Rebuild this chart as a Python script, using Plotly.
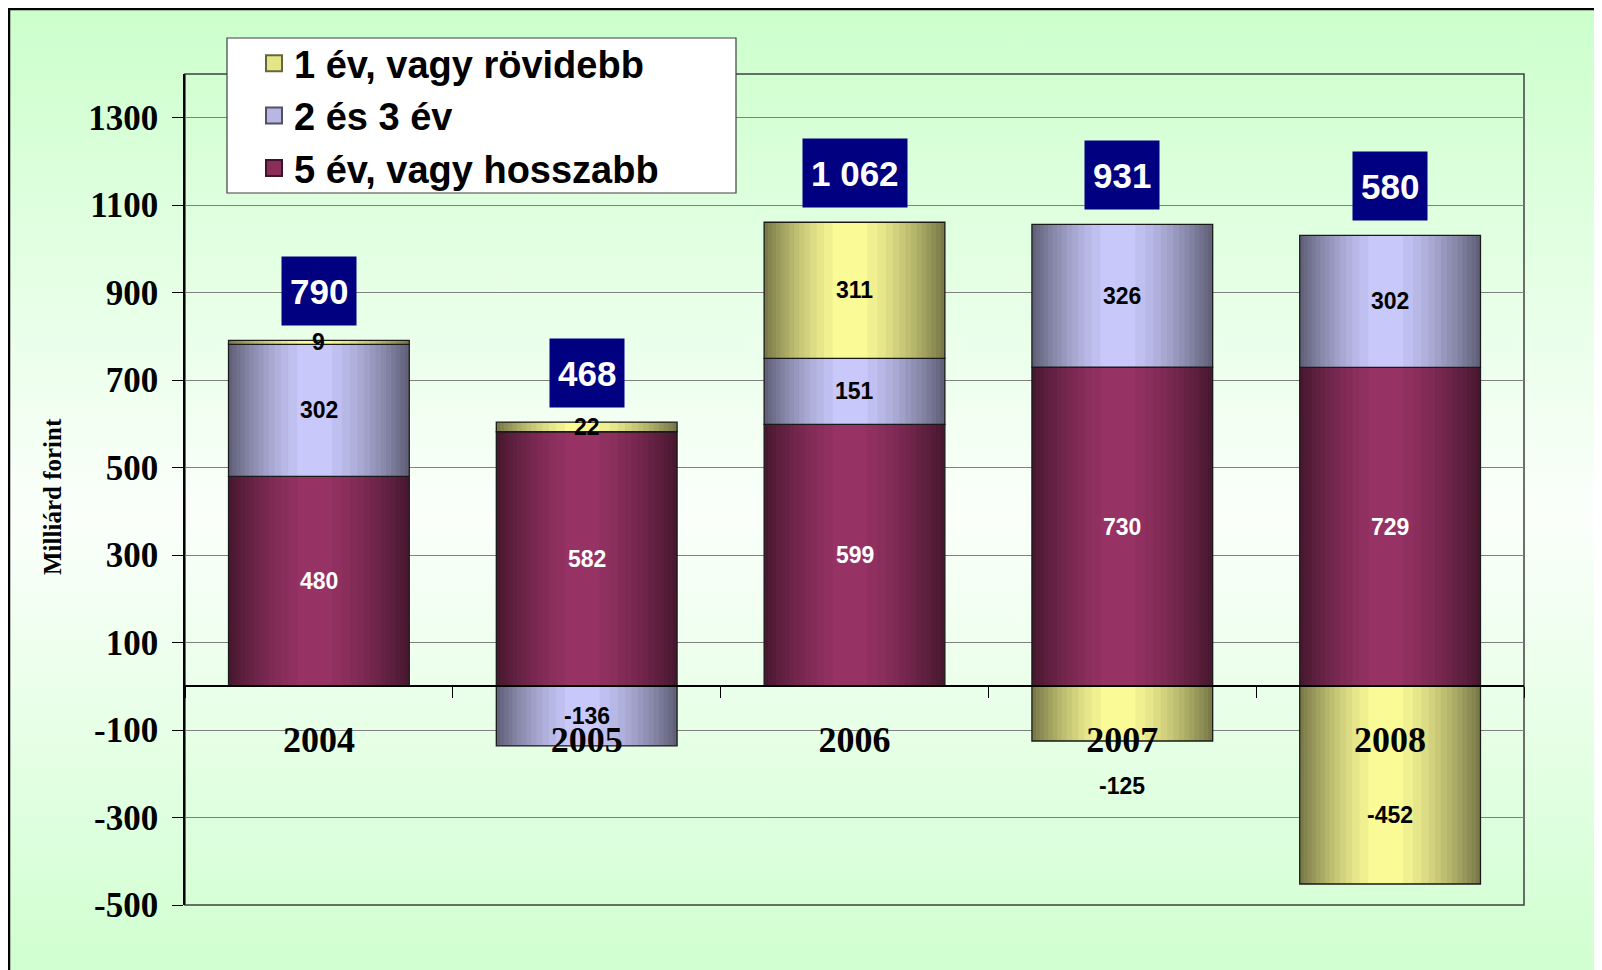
import base64
import plotly.graph_objects as go

# adatok (milliárd forint)
years = ["2004", "2005", "2006", "2007", "2008"]
short_term = [9, 22, 311, -125, -452]     # 1 év, vagy rövidebb
mid_term = [302, -136, 151, 326, 302]     # 2 és 3 év
long_term = [480, 582, 599, 730, 729]     # 5 év, vagy hosszabb
totals = [790, 468, 1062, 931, 580]

y_ticks = list(range(-500, 1301, 200))

# rétegek sorrendje alulról felfelé
series = [
    ("5 év, vagy hosszabb", long_term, "#993366", "white"),
    ("2 és 3 év", mid_term, "#ccccff", "black"),
    ("1 év, vagy rövidebb", short_term, "#ffff99", "black"),
]
legend_order = ["1 év, vagy rövidebb", "2 és 3 év", "5 év, vagy hosszabb"]

# címke-eltolások pixelben (csak elhelyezés)
label_shift = {("1 év, vagy rövidebb", "2007"): -72, ("1 év, vagy rövidebb", "2008"): -30}

W, H = 1602, 970
OFF = 8  # az oldal margója
L, T = 185 - OFF, 74 - OFF
R, B = W - (1524 - OFF), H - (905 - OFF)
PW, PH = W - L - R, H - T - B


def px_x(px):
    return (px - OFF - L) / PW


def px_y(py):
    return (H - B - (py - OFF)) / PH


def shade(hex_color, k):
    h = hex_color.lstrip("#")
    r, g, b = (int(h[i:i + 2], 16) for i in (0, 2, 4))
    return "rgb(%d,%d,%d)" % (r * k, g * k, b * k)


BAR_W = 0.675
PEAK = 0.47
DARK = 0.46
N = 14
GAMMA = 1.6

fig = go.Figure()

# halmozás alapjai
pos = [0] * len(years)
neg = [0] * len(years)
bases = {}
for name, vals, col, _ in series:
    b = []
    for j, v in enumerate(vals):
        if v >= 0:
            b.append(pos[j])
            pos[j] += v
        else:
            b.append(neg[j])
            neg[j] += v
    bases[name] = b

# hengeres színátmenet egymásba ágyazott oszlopokkal
for name, vals, col, _ in series:
    for i in range(N):
        d = (1 - i / N) ** (1 / GAMMA)
        left = PEAK - PEAK * d
        right = PEAK + (1 - PEAK) * d
        k = DARK + (1 - DARK) * (i + 0.5) / N
        fig.add_trace(go.Bar(
            x=years, y=vals, base=bases[name],
            width=(right - left) * BAR_W,
            offset=-BAR_W / 2 + left * BAR_W,
            marker=dict(color=shade(col, k), line=dict(width=0)),
            showlegend=False, hoverinfo="skip",
        ))
    fig.add_trace(go.Bar(
        x=years, y=vals, base=bases[name],
        width=BAR_W, offset=-BAR_W / 2,
        marker=dict(color="rgba(0,0,0,0)", line=dict(color="#1a1a1a", width=1.3)),
        showlegend=False, hoverinfo="skip",
    ))

# jelmagyarázat
colors = {name: col for name, _, col, _ in series}
for name in legend_order:
    fig.add_trace(go.Scatter(
        x=[None], y=[None], name=name, mode="markers",
        marker=dict(symbol="square", size=16, color=shade(colors[name], 0.9),
                    line=dict(color=shade(colors[name], 0.4), width=2)),
    ))

# értékcímkék (kategóriatengelyen sorszámmal)
for name, vals, col, tcol in series:
    for j, v in enumerate(vals):
        fig.add_annotation(
            x=j, y=bases[name][j] + v / 2, text=str(v), showarrow=False,
            font=dict(family="Liberation Sans", size=23, color=tcol, weight="bold"),
            yshift=label_shift.get((name, years[j]), 0),
        )

# összegek
for j, t in enumerate(totals):
    fig.add_annotation(
        x=j, y=pos[j], text=f"{t:,}".replace(",", " "), showarrow=False,
        yanchor="bottom", yshift=14, height=52, valign="middle",
        bgcolor="#000080", borderpad=8,
        font=dict(family="Liberation Sans", size=35, color="white", weight="bold"),
    )

fig.add_annotation(
    x=px_x(52), y=px_y(497), xref="paper", yref="paper", text="Milliárd forint",
    xanchor="center", yanchor="middle",
    textangle=-90, showarrow=False,
    font=dict(family="Liberation Serif", size=25, color="black", weight="bold"),
)

svg = ('<svg xmlns="http://www.w3.org/2000/svg" width="100" height="100" viewBox="0 0 100 100" '
       'preserveAspectRatio="none"><defs><linearGradient id="g" x1="0" y1="0" x2="0" y2="1">'
       '<stop offset="0" stop-color="#ccffcc"/><stop offset="0.5" stop-color="#fbfffb"/>'
       '<stop offset="1" stop-color="#ccffcc"/></linearGradient></defs>'
       '<rect width="100" height="100" fill="url(#g)"/></svg>')
bg_src = "data:image/svg+xml;base64," + base64.b64encode(svg.encode()).decode()

fig.update_layout(
    width=W, height=H,
    margin=dict(l=L, r=R, t=T, b=B),
    barmode="overlay",
    paper_bgcolor="white",
    plot_bgcolor="rgba(0,0,0,0)",
    images=[dict(
        source=bg_src, xref="paper", yref="paper",
        x=px_x(9), y=px_y(9), sizex=(W + 40) / PW, sizey=(H + 40) / PH,
        xanchor="left", yanchor="top", sizing="stretch", layer="below",
    )],
    legend=dict(
        x=px_x(254), y=px_y(32), xanchor="left", yanchor="top",
        bgcolor="rgba(0,0,0,0)", itemsizing="trace", tracegroupgap=0,
        font=dict(family="Liberation Sans", size=38, color="black", weight="bold"),
    ),
    shapes=[
        dict(type="rect", xref="paper", yref="paper", x0=0, x1=1, y0=0, y1=1,
             line=dict(color="#404040", width=1.5), layer="below"),
        dict(type="rect", xref="paper", yref="paper",
             x0=px_x(227), x1=px_x(736), y0=px_y(193), y1=px_y(38),
             fillcolor="white", line=dict(color="#404040", width=1.2), layer="above"),
        dict(type="rect", xref="paper", yref="paper",
             x0=px_x(9), x1=px_x(W + 60), y0=px_y(H + 60), y1=px_y(9),
             line=dict(color="black", width=2.5), layer="above"),
    ],
    xaxis=dict(
        type="category", categoryorder="array", categoryarray=years,
        range=[-0.5, len(years) - 0.5],
        anchor="free", position=500 / 1900,
        showline=True, linecolor="black", linewidth=1.5,
        ticks="outside", tickson="boundaries", ticklen=11, tickcolor="black",
        ticklabelstandoff=22, showgrid=False, zeroline=False, automargin=False,
        tickfont=dict(family="Liberation Serif", size=36, color="black", weight="bold"),
    ),
    yaxis=dict(
        range=[-500, 1400], tickmode="array", tickvals=y_ticks,
        ticktext=[str(t) for t in y_ticks],
        showline=True, linecolor="black", linewidth=1.5,
        ticks="outside", ticklen=11, tickcolor="black", ticklabelstandoff=7,
        showgrid=True, gridcolor="#808080", gridwidth=1, zeroline=False, automargin=False,
        tickfont=dict(family="Liberation Serif", size=35, color="black", weight="bold"),
    ),
)

fig.write_html("out.html")
